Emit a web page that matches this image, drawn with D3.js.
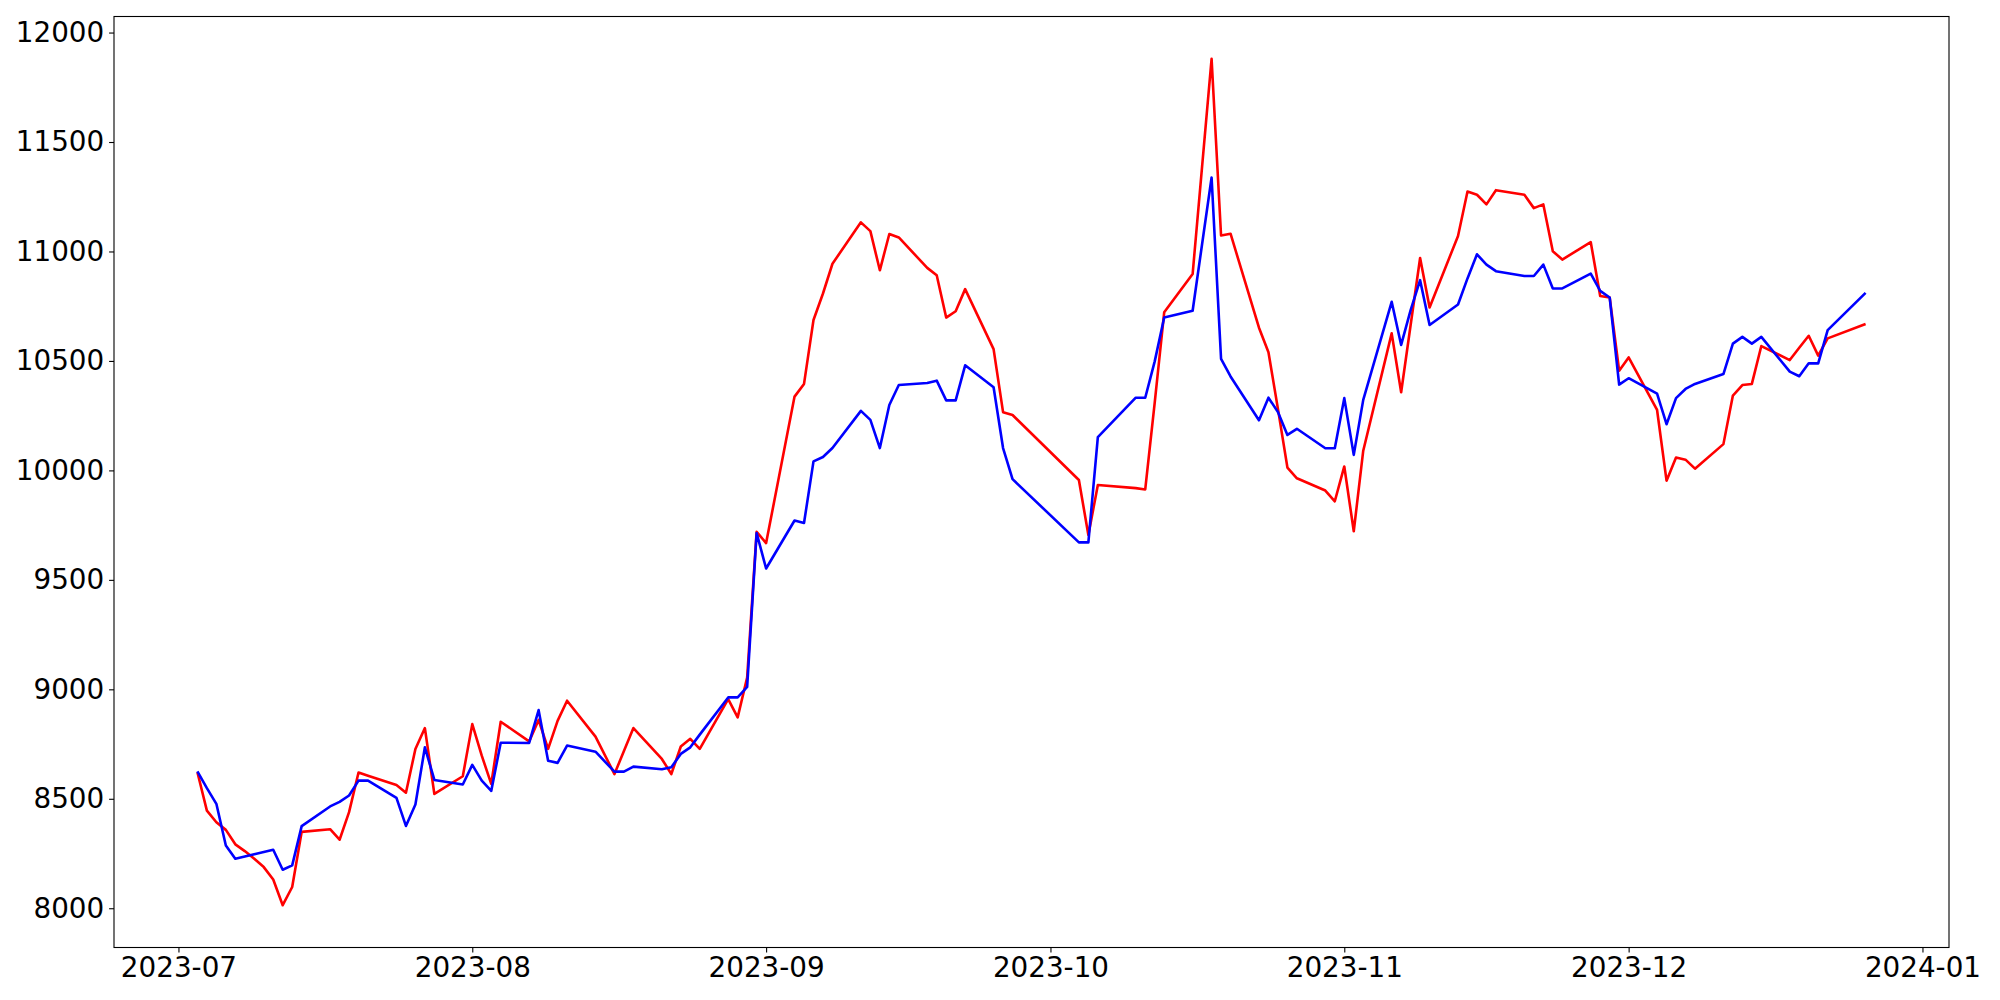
<!DOCTYPE html>
<html><head><meta charset="utf-8">
<script src="https://cdn.jsdelivr.net/npm/d3@7"></script>
<style>body{margin:0;background:#fff}svg{display:block}</style>
</head><body>
<svg id="chart" width="2000" height="1000"></svg>
<script>
const dates = [
"2023-07-03","2023-07-04","2023-07-05","2023-07-06","2023-07-07","2023-07-08","2023-07-09","2023-07-10","2023-07-11","2023-07-12","2023-07-13","2023-07-14",
"2023-07-17","2023-07-18","2023-07-19","2023-07-20","2023-07-21",
"2023-07-24","2023-07-25","2023-07-26","2023-07-27","2023-07-28",
"2023-07-31","2023-08-01","2023-08-02","2023-08-03","2023-08-04",
"2023-08-07","2023-08-08","2023-08-09","2023-08-10","2023-08-11",
"2023-08-14","2023-08-16","2023-08-17","2023-08-18",
"2023-08-21","2023-08-22","2023-08-23","2023-08-24","2023-08-25",
"2023-08-28","2023-08-29","2023-08-30","2023-08-31","2023-09-01",
"2023-09-04","2023-09-05","2023-09-06","2023-09-07","2023-09-08",
"2023-09-11","2023-09-12","2023-09-13","2023-09-14","2023-09-15",
"2023-09-18","2023-09-19","2023-09-20","2023-09-21","2023-09-22",
"2023-09-25","2023-09-26","2023-09-27",
"2023-10-04","2023-10-05","2023-10-06",
"2023-10-10","2023-10-11","2023-10-12","2023-10-13",
"2023-10-16","2023-10-17","2023-10-18","2023-10-19","2023-10-20",
"2023-10-23","2023-10-24","2023-10-25","2023-10-26","2023-10-27",
"2023-10-30","2023-10-31","2023-11-01","2023-11-02","2023-11-03",
"2023-11-06","2023-11-07","2023-11-08","2023-11-09","2023-11-10",
"2023-11-13","2023-11-14","2023-11-15","2023-11-16","2023-11-17",
"2023-11-20","2023-11-21","2023-11-22","2023-11-23","2023-11-24",
"2023-11-27","2023-11-28","2023-11-29","2023-11-30","2023-12-01",
"2023-12-04","2023-12-05","2023-12-06","2023-12-07","2023-12-08",
"2023-12-11","2023-12-12","2023-12-13","2023-12-14","2023-12-15",
"2023-12-18","2023-12-19","2023-12-20","2023-12-21","2023-12-22",
"2023-12-26"
];

const redValues = [
8621,8446,8393,8358,8292,8261,8226,8188,8131,8014,8097,8349,
8361,8313,8439,8620,8605,
8563,8528,8727,8823,8522,
8603,8841,8697,8568,8852,
8762,8860,8728,8856,8948,
8784,8613,8718,8823,
8682,8613,8739,8774,8728,
8955,8872,9054,9719,9668,
10337,10395,10687,10808,10944,
11133,11093,10914,11080,11064,
10925,10891,10698,10727,10828,
10554,10266,10253,
9956,9705,9933,
9919,9913,10310,10722,
10897,11389,11880,11073,11081,
10652,10540,10281,10013,9964,
9908,9859,10018,9722,10090,
10626,10357,10664,10970,10744,
11071,11274,11259,11215,11280,
11259,11198,11215,11001,10963,
11043,10797,10790,10455,10516,
10276,9953,10059,10049,10008,
10120,10342,10390,10395,10568,
10504,10560,10615,10524,10603,
10669
];

const blueValues = [
8625,8549,8477,8287,8226,8236,8247,8257,8267,8176,8196,8375,
8465,8486,8515,8583,8583,
8504,8376,8474,8735,8586,
8565,8655,8583,8536,8756,
8755,8905,8674,8664,8743,
8715,8624,8624,8647,
8635,8644,8705,8735,8793,
8963,8963,9011,9714,9552,
9771,9760,10041,10061,10102,
10272,10231,10102,10299,10390,
10399,10410,10320,10320,10480,
10380,10102,9960,
9671,9671,10152,
10332,10332,10498,10698,
10729,11034,11338,10509,10429,
10229,10332,10267,10162,10190,
10101,10101,10330,10071,10322,
10770,10573,10732,10869,10664,
10758,10877,10987,10940,10910,
10888,10888,10940,10831,10831,
10899,10820,10790,10392,10421,
10351,10211,10330,10372,10395,
10440,10579,10610,10579,10610,
10451,10430,10489,10489,10641,
10811
];

const yTickValues = [8000,8500,9000,9500,10000,10500,11000,11500,12000];
const xTickLabels = ["2023-07","2023-08","2023-09","2023-10","2023-11","2023-12","2024-01"];

const parse = d3.timeParse("%Y-%m-%d");
const parseMonth = d3.timeParse("%Y-%m");
const xs = dates.map(parse);

const plot = {left:114, right:1949, top:16.5, bottom:947.5};
const fontSize = 27.8;

const svg = d3.select("#chart");

const xExt = d3.extent(xs);
const xPad = (xExt[1] - xExt[0]) * 0.05;
const x = d3.scaleTime()
  .domain([new Date(+xExt[0] - xPad), new Date(+xExt[1] + xPad)])
  .range([plot.left, plot.right]);

const allVals = redValues.concat(blueValues);
const yExt = d3.extent(allVals);
const yPad = (yExt[1] - yExt[0]) * 0.05;
const y = d3.scaleLinear()
  .domain([yExt[0] - yPad, yExt[1] + yPad])
  .range([plot.bottom, plot.top]);

const line = d3.line().x(d => x(d[0])).y(d => y(d[1]));

const defs = svg.append("defs");
defs.append("clipPath").attr("id","clip").append("rect")
  .attr("x", plot.left).attr("y", plot.top)
  .attr("width", plot.right - plot.left).attr("height", plot.bottom - plot.top);

const g = svg.append("g").attr("clip-path","url(#clip)");
g.append("path")
  .datum(xs.map((d,i)=>[d, redValues[i]]))
  .attr("fill","none").attr("stroke","#ff0000").attr("stroke-width",2.6)
  .attr("stroke-linejoin","round").attr("stroke-linecap","butt")
  .attr("d", line);
g.append("path")
  .datum(xs.map((d,i)=>[d, blueValues[i]]))
  .attr("fill","none").attr("stroke","#0000ff").attr("stroke-width",2.6)
  .attr("stroke-linejoin","round").attr("stroke-linecap","butt")
  .attr("d", line);

const xAxis = d3.axisBottom(x)
  .tickValues(xTickLabels.map(parseMonth))
  .tickFormat(d3.timeFormat("%Y-%m"))
  .tickSizeInner(4.9).tickSizeOuter(0).tickPadding(4.9);
const yAxis = d3.axisLeft(y)
  .tickValues(yTickValues)
  .tickFormat(d3.format("d"))
  .tickSizeInner(4.9).tickSizeOuter(0).tickPadding(4.9);

const gx = svg.append("g").attr("transform",`translate(0,${plot.bottom})`).call(xAxis);
const gy = svg.append("g").attr("transform",`translate(${plot.left},0)`).call(yAxis);
[gx, gy].forEach(a => {
  a.select(".domain").remove();
  a.selectAll(".tick line").attr("stroke","#000").attr("stroke-width",1.1);
  a.selectAll(".tick text").attr("fill","#000")
    .style("font-family","'DejaVu Sans', sans-serif").style("font-size", fontSize + "px");
});

svg.append("rect")
  .attr("x", plot.left).attr("y", plot.top)
  .attr("width", plot.right - plot.left).attr("height", plot.bottom - plot.top)
  .attr("fill","none").attr("stroke","#000").attr("stroke-width",1.1);
</script>
</body></html>
